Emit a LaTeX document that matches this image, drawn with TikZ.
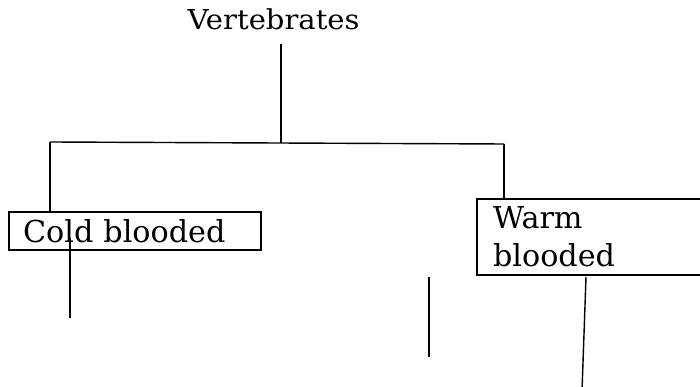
\documentclass[tikz,border=0pt]{standalone}
\usepackage{fontspec}
\setmainfont{DejaVu Serif}
\newfontfamily\titlefont[FakeStretch=1.06]{DejaVu Serif}
\usepackage{tikz}

\begin{document}
\begin{tikzpicture}[stem/.style={line width=1pt},
	box/.style={draw,line width=1.5pt,anchor=north west,align=left,font=\fontsize{21.5}{27}\selectfont}]
	\useasboundingbox (0,0) rectangle (17.5,9.675);
	\clip (0,0) rectangle (17.5,9.675);
	\node[anchor=base,inner sep=0pt,font=\titlefont\fontsize{19.5}{23}\selectfont] (vert) at (6.84,8.94) {Vertebrates};
	\node[box,inner xsep=0.35cm,text width=5.6cm,minimum height=0.95cm] (cold) at (0.2,4.4) {Cold blooded};
	\node[box,inner xsep=0.4cm,text width=5.3cm,minimum height=1.9cm] (warm) at (11.9,4.725) {Warm\\blooded};
	\coordinate (vstem) at (7.025,8.575);
	\coordinate (mid) at (7.025,6.09);
	\coordinate (lbar) at (1.25,6.125);
	\coordinate (rbar) at (12.6,6.075);
	\coordinate (c1) at (1.75,3.725);
	\coordinate (c2) at (1.75,1.725);
	\coordinate (m1) at (10.725,2.75);
	\coordinate (m2) at (10.725,0.75);
	\coordinate (w1) at (14.65,2.75);
	\coordinate (w2) at (14.55,-0.1);
	\draw[stem] (vstem) -- (mid);
	\draw[stem] (lbar) -- (rbar);
	\draw[stem] (lbar) -- (lbar |- cold.north);
	\draw[stem] (rbar) -- (rbar |- warm.north);
	\draw[stem] (c1) -- (c2);
	\draw[stem] (m1) -- (m2);
	\draw[stem] (w1) -- (w2);
\end{tikzpicture}
\end{document}
